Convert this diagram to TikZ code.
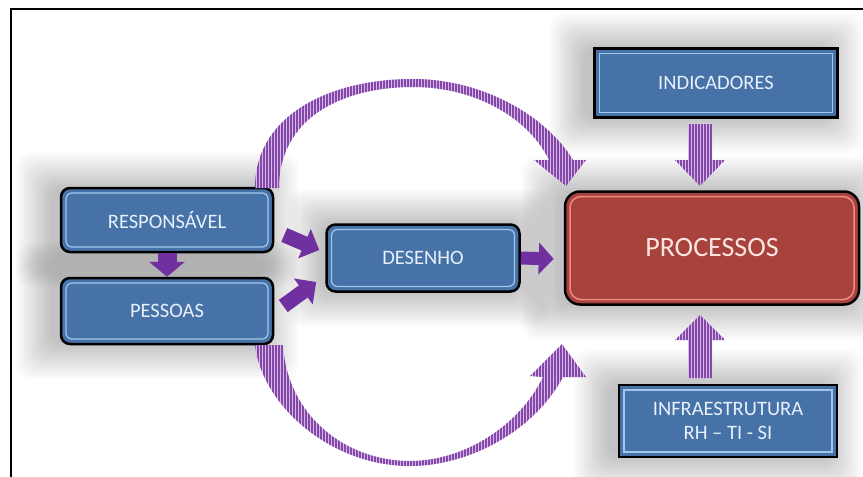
\documentclass[tikz,border=0pt]{standalone}
\usepackage{fontspec}
\setmainfont{Carlito}
\usetikzlibrary{patterns.meta,arrows.meta,calc}
\pgfdeclarelayer{bg}
\pgfsetlayers{bg,main}
\definecolor{boxblue}{RGB}{70,114,168}
\definecolor{boxlight}{RGB}{160,200,236}
\definecolor{boxred}{RGB}{168,66,60}
\definecolor{redlight}{RGB}{236,140,130}
\definecolor{arrowpurple}{RGB}{112,48,160}
\definecolor{stripedark}{RGB}{130,74,165}
\definecolor{stripelight}{RGB}{218,180,238}
\definecolor{txtblue}{RGB}{232,240,250}
\definecolor{txtred}{RGB}{252,228,224}
\newcommand\softshadow[2]{%
  \begin{pgfonlayer}{bg}
  \foreach \i in {0,...,19} {
    \fill[black, opacity=0.011, rounded corners=14pt]
      ($(#1.north west)+(#2-1.8*\i,-1.8*\i)$) rectangle ($(#1.south east)+(#2+1.8*\i,1.8*\i)$);
  }
  \end{pgfonlayer}}
\begin{document}
\begin{tikzpicture}[x=1pt,y=-1pt,
  basebox/.style={draw=black, line width=2.5pt, align=center, inner sep=0pt},
  roundbox/.style={basebox, fill=boxblue, text=txtblue, rounded corners=9pt,
    font=\fontsize{20.5}{24}\selectfont,
    path picture={\draw[boxlight,line width=1.2pt,rounded corners=6pt]
      ([shift={(5pt,5pt)}]path picture bounding box.south west) rectangle
      ([shift={(-5pt,-5pt)}]path picture bounding box.north east);}},
  squarebox/.style={basebox, fill=boxblue, text=txtblue,
    font=\fontsize{20.5}{24}\selectfont,
    path picture={\draw[boxlight,line width=1.2pt]
      ([shift={(5pt,5pt)}]path picture bounding box.south west) rectangle
      ([shift={(-5pt,-5pt)}]path picture bounding box.north east);}},
  redbox/.style={basebox, fill=boxred, text=txtred, rounded corners=15pt,
    font=\fontsize{28}{32}\selectfont,
    path picture={\draw[redlight,line width=1.5pt,rounded corners=11pt]
      ([shift={(5pt,5pt)}]path picture bounding box.south west) rectangle
      ([shift={(-5pt,-5pt)}]path picture bounding box.north east);}},
  solidarrow/.style={draw=arrowpurple},
  stripe/.style={fill=stripelight, postaction={pattern={Lines[angle=90,distance=3pt,line width=1.4pt]}, pattern color=stripedark}}
]
\useasboundingbox (0,0) rectangle (863,477);
\begin{pgfonlayer}{bg}
\fill[white] (0,0) rectangle (863,477);
\end{pgfonlayer}

% nodes
\node[roundbox, minimum width=212pt, minimum height=64pt] (resp) at (167,220) {RESPONSÁVEL};
\node[roundbox, minimum width=212pt, minimum height=66pt] (pess) at (167,311) {PESSOAS};
\node[roundbox, minimum width=193pt, minimum height=67pt] (des) at (423,258) {DESENHO};
\node[redbox, minimum width=294pt, minimum height=113pt] (proc) at (712,248) {PROCESSOS};
\node[squarebox, minimum width=243pt, minimum height=69pt] (ind) at (716,83) {INDICADORES};
\node[squarebox, minimum width=218pt, minimum height=72pt] (infra) at (728,421) {INFRAESTRUTURA\\RH – TI - SI};

% soft shadows
\softshadow{resp}{-10}
\softshadow{pess}{-10}
\softshadow{des}{-4}
\softshadow{proc}{-8}
\softshadow{ind}{-10}
\softshadow{infra}{-10}

% frame
\draw[line width=1.6pt] (11,477) -- (11,9) -- (863,9);

% solid arrows
\draw[solidarrow, line width=19pt, -{Triangle[width=35pt,length=15pt]}] (resp.south) -- (pess.north);
\draw[solidarrow, line width=15pt, -{Triangle[width=31pt,length=16pt]}] ($(resp.east)+(10,15)$) -- ($(des.west)+(-6,-8)$);
\draw[solidarrow, line width=15pt, -{Triangle[width=31pt,length=16pt]}] ($(pess.east)+(9,-5)$) -- ($(des.west)+(-9,24)$);
\draw[solidarrow, line width=13pt, -{Triangle[width=31pt,length=15pt]}] (des.east) -- ($(proc.west)+(-10,11)$);

% striped straight arrows
\fill[stripe] (688,124) -- (712,124) -- (712,160) -- (725,160) -- (700,186) -- (675,160) -- (688,160) -- cycle;
\fill[stripe] (688,378) -- (712,378) -- (712,340) -- (725,340) -- (700,315) -- (675,340) -- (688,340) -- cycle;

% top curved arrow
\fill[stripe] (255,188) .. controls (255,115) and (330,79) .. (413,79)
  .. controls (485,79) and (548,118) .. (573,160) -- (586,160) -- (566,186) -- (534,160) -- (549,160)
  .. controls (530,120) and (478,87) .. (413,87)
  .. controls (342,87) and (279,118) .. (279,188) -- cycle;

% bottom curved arrow
\fill[stripe] (255,345) .. controls (262,405) and (330,466) .. (410,466)
  .. controls (470,466) and (535,430) .. (563,377) -- (586,377) -- (562,344) -- (530,376) -- (543,377)
  .. controls (520,425) and (465,461) .. (410,461)
  .. controls (345,461) and (287,415) .. (283,345) -- cycle;
\end{tikzpicture}
\end{document}
